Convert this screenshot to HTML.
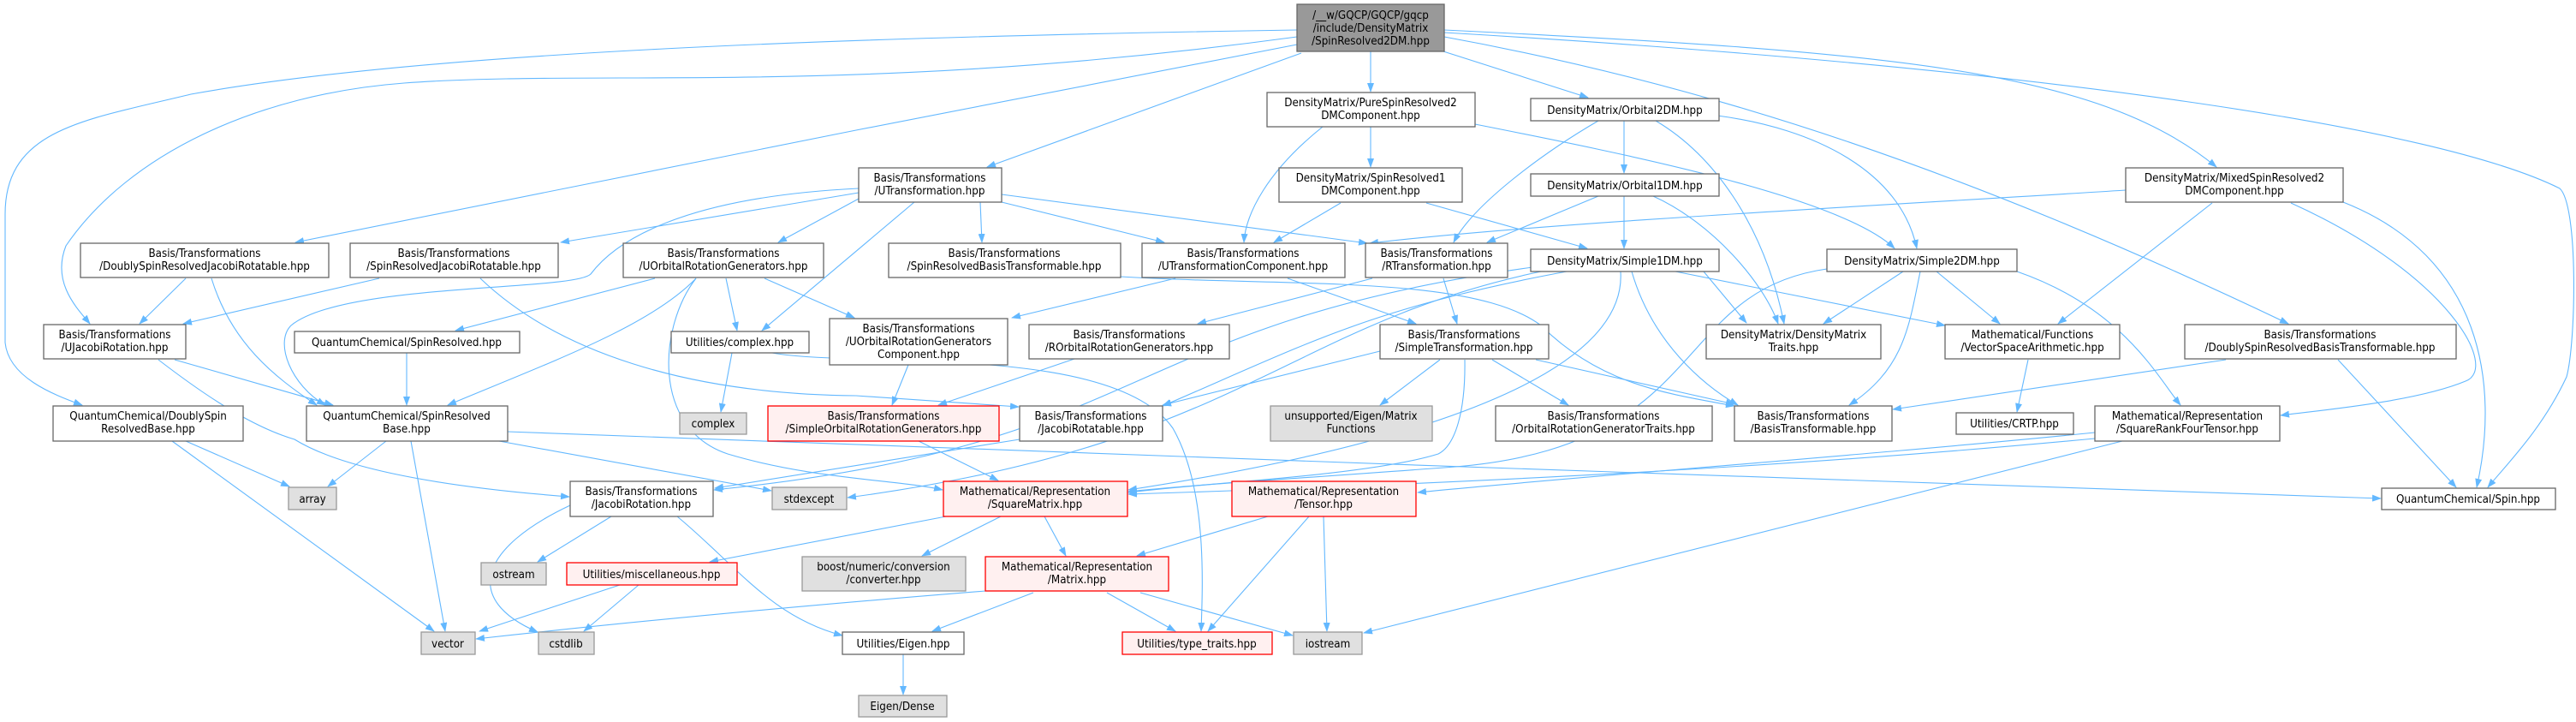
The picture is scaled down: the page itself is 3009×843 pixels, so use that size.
<!DOCTYPE html>
<html><head><meta charset="utf-8"><style>
html,body{margin:0;padding:0;background:#fff;}
svg{display:block;}
text{font-family:"DejaVu Sans Condensed","DejaVu Sans","Liberation Sans",sans-serif;font-stretch:condensed;font-size:13.3px;fill:#000;text-anchor:middle;}
.e{fill:none;stroke:#63b8ff;stroke-width:1.1;marker-end:url(#a);}
.n{fill:#fff;stroke:#666;stroke-width:1.3;}
.g{fill:#e0e0e0;stroke:#999;stroke-width:1.3;}
.r{fill:#fff0f0;stroke:#ff0000;stroke-width:1.3;}
.root{fill:#999;stroke:#666;stroke-width:1.3;}
</style></head><body>
<svg width="3009" height="843" viewBox="0 0 3009 843" xmlns="http://www.w3.org/2000/svg">
<defs><marker id="a" markerWidth="11" markerHeight="8" refX="10" refY="4" orient="auto" markerUnits="userSpaceOnUse"><path d="M0,0 L11,4 L0,8 z" fill="#63b8ff"/></marker></defs>
<g>
<path class="e" d="M1520,62 L1153,195"/>
<path class="e" d="M1601,60 L1601,107"/>
<path class="e" d="M1686,60 L1855,114"/>
<path class="e" d="M1687,35 C2200,60 2450,80 2589,195"/>
<path class="e" d="M1687,43 C2000,100 2300,200 2673,378"/>
<path class="e" d="M1687,38 C2400,80 2850,150 2990,220 C3012,240 3009,400 2998,440 C2970,500 2930,540 2906,569"/>
<path class="e" d="M1515,52 L1000,152 L345,283"/>
<path class="e" d="M1515,43 C1000,113 700,80 472,97 C300,110 150,180 77,287 C60,330 90,360 105,378"/>
<path class="e" d="M1515,35 C1000,43 500,60 223,110 C100,140 6,150 6,250 L6,400 C10,440 60,460 96,473"/>
<path class="e" d="M1145,236 L1147,283"/>
<path class="e" d="M1170,236 L1360,283"/>
<path class="e" d="M1170,227 L1597,284"/>
<path class="e" d="M1003,232 L909,283"/>
<path class="e" d="M1003,225 L655,283"/>
<path class="e" d="M1068,236 L890,386"/>
<path class="e" d="M1003,220 C800,230 720,280 690,320 C670,340 400,330 340,380 C320,400 340,450 380,473"/>
<path class="e" d="M1601,148 L1601,195"/>
<path class="e" d="M1545,148 C1480,200 1455,250 1453,283"/>
<path class="e" d="M1723,145 C1900,180 2150,230 2213,290"/>
<path class="e" d="M1897,141 L1897,202"/>
<path class="e" d="M1867,141 C1800,180 1720,240 1698,283"/>
<path class="e" d="M1934,141 C2000,180 2060,260 2084,378"/>
<path class="e" d="M2006,135 C2120,150 2220,200 2239,290"/>
<path class="e" d="M1897,229 L1897,290"/>
<path class="e" d="M1867,229 L1737,283"/>
<path class="e" d="M1931,229 C2000,260 2060,330 2077,378"/>
<path class="e" d="M1566,237 L1488,283"/>
<path class="e" d="M1666,237 L1854,290"/>
<path class="e" d="M2483,222 C2200,240 1800,260 1600,284"/>
<path class="e" d="M2584,237 L2404,378"/>
<path class="e" d="M2676,237 C2860,320 2920,430 2880,445 C2820,470 2700,480 2664,485"/>
<path class="e" d="M2737,236 C2900,300 2920,450 2893,569"/>
<path class="e" d="M2223,317 L2130,378"/>
<path class="e" d="M2262,317 L2336,378"/>
<path class="e" d="M2243,317 C2230,380 2225,430 2160,473"/>
<path class="e" d="M2356,317 C2480,360 2520,440 2547,473"/>
<path class="e" d="M2134,314 C1950,340 2000,520 1700,545 C1500,560 1400,565 1318,575"/>
<path class="e" d="M1990,317 L2040,377"/>
<path class="e" d="M1957,317 L2272,380"/>
<path class="e" d="M1906,317 C1930,400 1990,450 2030,473"/>
<path class="e" d="M1893,317 C1900,420 1720,510 1318,572"/>
<path class="e" d="M1830,317 C1600,360 1530,400 1358,474"/>
<path class="e" d="M1800,317 C1500,380 1450,520 990,581"/>
<path class="e" d="M1790,312 C1300,380 1350,520 834,572"/>
<path class="e" d="M765,325 L532,386"/>
<path class="e" d="M848,325 L861,386"/>
<path class="e" d="M893,325 L998,371"/>
<path class="e" d="M813,325 C760,380 650,420 523,473"/>
<path class="e" d="M813,325 C770,380 760,500 850,530 C950,560 1050,560 1101,572"/>
<path class="e" d="M443,325 L214,378"/>
<path class="e" d="M561,325 C650,410 800,460 1000,462 L1190,475"/>
<path class="e" d="M217,325 L163,378"/>
<path class="e" d="M247,325 C270,400 320,440 370,473"/>
<path class="e" d="M185,420 C250,470 300,500 344,513 C420,560 600,575 665,580"/>
<path class="e" d="M204,420 L389,473"/>
<path class="e" d="M475,412 L475,473"/>
<path class="e" d="M593,504 C1200,530 2200,560 2781,582"/>
<path class="e" d="M583,515 L901,573"/>
<path class="e" d="M451,515 L383,568"/>
<path class="e" d="M480,515 L520,737"/>
<path class="e" d="M217,515 L338,568"/>
<path class="e" d="M201,515 L507,737"/>
<path class="e" d="M714,603 L628,656"/>
<path class="e" d="M666,590 C560,640 540,700 628,738"/>
<path class="e" d="M791,603 C860,660 900,720 984,742"/>
<path class="e" d="M724,683 L560,737"/>
<path class="e" d="M746,683 L682,737"/>
<path class="e" d="M1105,603 L829,656"/>
<path class="e" d="M1169,603 L1077,649"/>
<path class="e" d="M1220,603 L1245,649"/>
<path class="e" d="M1151,690 C900,710 700,730 556,746"/>
<path class="e" d="M1207,692 L1089,737"/>
<path class="e" d="M1293,692 L1373,737"/>
<path class="e" d="M1332,692 L1510,742"/>
<path class="e" d="M1481,603 L1328,649"/>
<path class="e" d="M1529,603 L1411,737"/>
<path class="e" d="M1546,603 L1550,737"/>
<path class="e" d="M1055,764 L1055,811"/>
<path class="e" d="M855,412 L842,481"/>
<path class="e" d="M902,412 C1000,430 1300,400 1370,500 C1410,570 1405,680 1403,737"/>
<path class="e" d="M1061,426 L1042,473"/>
<path class="e" d="M1255,419 L1096,473"/>
<path class="e" d="M1073,515 L1166,561"/>
<path class="e" d="M1191,513 L835,570"/>
<path class="e" d="M1373,325 L1182,371"/>
<path class="e" d="M1504,325 L1654,378"/>
<path class="e" d="M1309,323 C1500,335 1720,320 1800,380 C1870,450 1950,460 2026,474"/>
<path class="e" d="M1603,325 L1399,378"/>
<path class="e" d="M1686,325 L1702,378"/>
<path class="e" d="M1612,410 L1358,473"/>
<path class="e" d="M1682,420 L1612,473"/>
<path class="e" d="M1743,420 L1832,473"/>
<path class="e" d="M1794,420 L2026,472"/>
<path class="e" d="M1711,420 C1712,480 1700,520 1680,530 C1600,555 1400,565 1318,574"/>
<path class="e" d="M2600,420 L2211,478"/>
<path class="e" d="M2731,420 L2869,569"/>
<path class="e" d="M2369,420 L2356,481"/>
<path class="e" d="M2447,505 C2200,530 1800,560 1656,575"/>
<path class="e" d="M2447,512 C2100,545 1700,565 1318,577"/>
<path class="e" d="M2479,515 L1593,739"/>
</g>
<g>
<rect class="root" x="1515" y="5" width="172" height="55"/>
<text x="1601" y="22">/__w/GQCP/GQCP/gqcp</text><text x="1601" y="37">/include/DensityMatrix</text><text x="1601" y="52">/SpinResolved2DM.hpp</text>

<rect class="n" x="1480" y="108" width="243" height="40"/><text x="1601" y="124">DensityMatrix/PureSpinResolved2</text><text x="1601" y="139">DMComponent.hpp</text>
<rect class="n" x="1788" y="115" width="220" height="26"/><text x="1898" y="133">DensityMatrix/Orbital2DM.hpp</text>
<rect class="n" x="2483" y="196" width="254" height="40"/><text x="2610" y="212">DensityMatrix/MixedSpinResolved2</text><text x="2610" y="227">DMComponent.hpp</text>
<rect class="n" x="1003" y="196" width="167" height="40"/><text x="1086" y="212">Basis/Transformations</text><text x="1086" y="227">/UTransformation.hpp</text>
<rect class="n" x="1494" y="196" width="214" height="40"/><text x="1601" y="212">DensityMatrix/SpinResolved1</text><text x="1601" y="227">DMComponent.hpp</text>
<rect class="n" x="1788" y="203" width="220" height="26"/><text x="1898" y="221">DensityMatrix/Orbital1DM.hpp</text>

<rect class="n" x="94" y="284" width="290" height="40"/><text x="239" y="300">Basis/Transformations</text><text x="239" y="315">/DoublySpinResolvedJacobiRotatable.hpp</text>
<rect class="n" x="409" y="284" width="243" height="40"/><text x="530" y="300">Basis/Transformations</text><text x="530" y="315">/SpinResolvedJacobiRotatable.hpp</text>
<rect class="n" x="728" y="284" width="234" height="40"/><text x="845" y="300">Basis/Transformations</text><text x="845" y="315">/UOrbitalRotationGenerators.hpp</text>
<rect class="n" x="1038" y="284" width="271" height="40"/><text x="1173" y="300">Basis/Transformations</text><text x="1173" y="315">/SpinResolvedBasisTransformable.hpp</text>
<rect class="n" x="1334" y="284" width="237" height="40"/><text x="1452" y="300">Basis/Transformations</text><text x="1452" y="315">/UTransformationComponent.hpp</text>
<rect class="n" x="1595" y="284" width="166" height="40"/><text x="1678" y="300">Basis/Transformations</text><text x="1678" y="315">/RTransformation.hpp</text>
<rect class="n" x="1788" y="291" width="220" height="26"/><text x="1898" y="309">DensityMatrix/Simple1DM.hpp</text>
<rect class="n" x="2134" y="291" width="222" height="26"/><text x="2245" y="309">DensityMatrix/Simple2DM.hpp</text>

<rect class="n" x="51" y="379" width="166" height="40"/><text x="134" y="395">Basis/Transformations</text><text x="134" y="410">/UJacobiRotation.hpp</text>
<rect class="n" x="344" y="387" width="263" height="25"/><text x="475" y="404">QuantumChemical/SpinResolved.hpp</text>
<rect class="n" x="784" y="387" width="161" height="25"/><text x="864" y="404">Utilities/complex.hpp</text>
<rect class="n" x="969" y="372" width="208" height="54"/><text x="1073" y="388">Basis/Transformations</text><text x="1073" y="403">/UOrbitalRotationGenerators</text><text x="1073" y="418">Component.hpp</text>
<rect class="n" x="1202" y="379" width="234" height="40"/><text x="1319" y="395">Basis/Transformations</text><text x="1319" y="410">/ROrbitalRotationGenerators.hpp</text>
<rect class="n" x="1612" y="379" width="197" height="40"/><text x="1710" y="395">Basis/Transformations</text><text x="1710" y="410">/SimpleTransformation.hpp</text>
<rect class="n" x="1993" y="379" width="204" height="40"/><text x="2095" y="395">DensityMatrix/DensityMatrix</text><text x="2095" y="410">Traits.hpp</text>
<rect class="n" x="2272" y="379" width="204" height="40"/><text x="2374" y="395">Mathematical/Functions</text><text x="2374" y="410">/VectorSpaceArithmetic.hpp</text>
<rect class="n" x="2552" y="379" width="317" height="40"/><text x="2710" y="395">Basis/Transformations</text><text x="2710" y="410">/DoublySpinResolvedBasisTransformable.hpp</text>

<rect class="n" x="62" y="474" width="222" height="41"/><text x="173" y="490">QuantumChemical/DoublySpin</text><text x="173" y="505">ResolvedBase.hpp</text>
<rect class="n" x="358" y="474" width="235" height="41"/><text x="475" y="490">QuantumChemical/SpinResolved</text><text x="475" y="505">Base.hpp</text>
<rect class="g" x="794" y="482" width="78" height="25"/><text x="833" y="499">complex</text>
<rect class="r" x="897" y="474" width="270" height="41"/><text x="1032" y="490">Basis/Transformations</text><text x="1032" y="505">/SimpleOrbitalRotationGenerators.hpp</text>
<rect class="n" x="1191" y="474" width="167" height="41"/><text x="1274" y="490">Basis/Transformations</text><text x="1274" y="505">/JacobiRotatable.hpp</text>
<rect class="g" x="1484" y="474" width="189" height="41"/><text x="1578" y="490">unsupported/Eigen/Matrix</text><text x="1578" y="505">Functions</text>
<rect class="n" x="1747" y="474" width="253" height="41"/><text x="1873" y="490">Basis/Transformations</text><text x="1873" y="505">/OrbitalRotationGeneratorTraits.hpp</text>
<rect class="n" x="2026" y="474" width="184" height="41"/><text x="2118" y="490">Basis/Transformations</text><text x="2118" y="505">/BasisTransformable.hpp</text>
<rect class="n" x="2285" y="482" width="137" height="25"/><text x="2353" y="499">Utilities/CRTP.hpp</text>
<rect class="n" x="2447" y="474" width="216" height="41"/><text x="2555" y="490">Mathematical/Representation</text><text x="2555" y="505">/SquareRankFourTensor.hpp</text>

<rect class="g" x="337" y="569" width="56" height="26"/><text x="365" y="587">array</text>
<rect class="n" x="666" y="562" width="167" height="41"/><text x="749" y="578">Basis/Transformations</text><text x="749" y="593">/JacobiRotation.hpp</text>
<rect class="g" x="902" y="569" width="87" height="26"/><text x="945" y="587">stdexcept</text>
<rect class="r" x="1102" y="562" width="215" height="41"/><text x="1209" y="578">Mathematical/Representation</text><text x="1209" y="593">/SquareMatrix.hpp</text>
<rect class="r" x="1439" y="562" width="215" height="41"/><text x="1546" y="578">Mathematical/Representation</text><text x="1546" y="593">/Tensor.hpp</text>
<rect class="n" x="2782" y="570" width="203" height="25"/><text x="2883" y="587">QuantumChemical/Spin.hpp</text>

<rect class="g" x="562" y="657" width="76" height="26"/><text x="600" y="675">ostream</text>
<rect class="r" x="662" y="657" width="199" height="26"/><text x="761" y="675">Utilities/miscellaneous.hpp</text>
<rect class="g" x="937" y="650" width="191" height="40"/><text x="1032" y="666">boost/numeric/conversion</text><text x="1032" y="681">/converter.hpp</text>
<rect class="r" x="1151" y="650" width="214" height="40"/><text x="1258" y="666">Mathematical/Representation</text><text x="1258" y="681">/Matrix.hpp</text>

<rect class="g" x="492" y="738" width="63" height="26"/><text x="523" y="756">vector</text>
<rect class="g" x="629" y="738" width="65" height="26"/><text x="661" y="756">cstdlib</text>
<rect class="n" x="984" y="738" width="142" height="26"/><text x="1055" y="756">Utilities/Eigen.hpp</text>
<rect class="r" x="1311" y="738" width="175" height="26"/><text x="1398" y="756">Utilities/type_traits.hpp</text>
<rect class="g" x="1511" y="738" width="80" height="26"/><text x="1551" y="756">iostream</text>
<rect class="g" x="1003" y="812" width="103" height="25"/><text x="1054" y="829">Eigen/Dense</text>
</g>
</svg>
</body></html>
